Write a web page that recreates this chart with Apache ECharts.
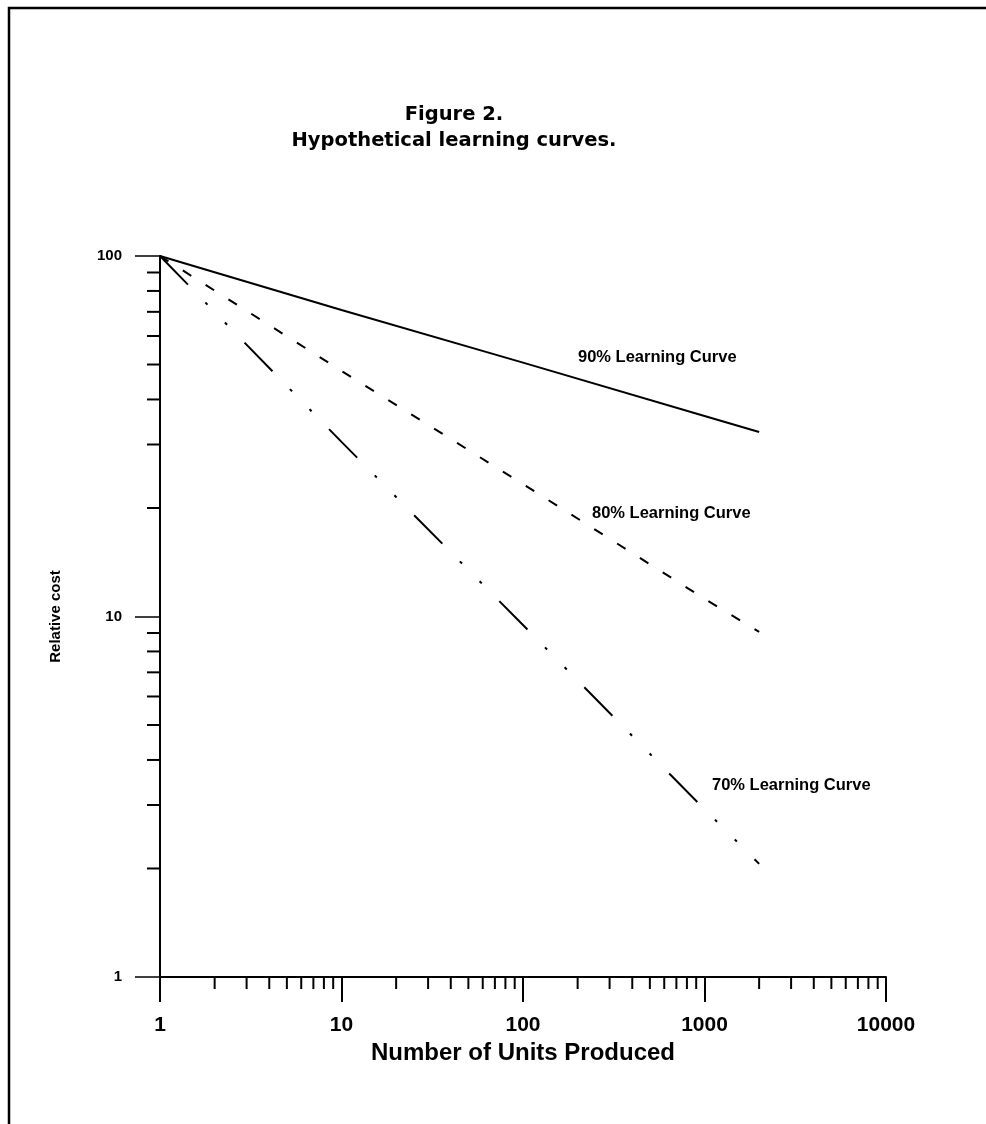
<!DOCTYPE html>
<html>
<head>
<meta charset="utf-8">
<script src="https://cdn.jsdelivr.net/npm/echarts@6/dist/echarts.min.js"></script>
<style>
html,body{margin:0;padding:0;background:#fff;}
#chart{width:986px;height:1124px;}
</style>
</head>
<body>
<div id="chart"></div>
<script>
// ---- data ----
const units = [1, 10, 100, 1000, 2000];
const cost90 = [100, 70.8, 50.6, 36.0, 32.5];
const cost80 = [100, 48.0, 23.3, 11.2, 9.06];
const cost70 = [100, 30.5, 9.47, 2.92, 2.06];
const seriesNames = ['90% Learning Curve', '80% Learning Curve', '70% Learning Curve'];
const xMinorTicks = [2,3,4,5,6,7,8,9,20,30,40,50,60,70,80,90,200,300,400,500,600,700,800,900,2000,3000,4000,5000,6000,7000,8000,9000];
const yMinorTicks = [2,3,4,5,6,7,8,9,20,30,40,50,60,70,80,90];
const titleText = 'Figure 2.\nHypothetical learning curves.';
const xName = 'Number of Units Produced';
const yName = 'Relative cost';

const pairs = (ys) => units.map((u, i) => [u, ys[i]]);
const plainNumber = (v) => String(Math.round(v));

const chart = echarts.init(document.getElementById('chart'), null, {renderer: 'canvas'});

const option = {
  animation: false,
  backgroundColor: '#fff',
  title: {
    text: titleText,
    left: 449,
    top: 97,
    textAlign: 'center',
    textStyle: {
      fontFamily: 'DejaVu Sans',
      fontWeight: 'bold',
      fontSize: 19.5,
      lineHeight: 26,
      color: '#000'
    }
  },
  grid: {left: 160, top: 256, width: 726, height: 721, containLabel: false},
  xAxis: {
    type: 'log',
    logBase: 10,
    min: 1,
    max: 10000,
    name: xName,
    nameLocation: 'middle',
    nameGap: 61,
    nameTextStyle: {fontFamily: 'Liberation Sans', fontWeight: 'bold', fontSize: 24, color: '#000'},
    axisLine: {lineStyle: {color: '#000', width: 2}},
    axisTick: {show: true, length: 25, lineStyle: {color: '#000', width: 2}},
    axisLabel: {margin: 38, formatter: plainNumber, fontFamily: 'Liberation Sans', fontWeight: 'bold', fontSize: 21, color: '#000'},
    splitLine: {show: false},
    minorTick: {show: false}
  },
  yAxis: {
    type: 'log',
    logBase: 10,
    min: 1,
    max: 100,
    name: yName,
    nameLocation: 'middle',
    nameGap: 97,
    nameRotate: 90,
    nameTextStyle: {fontFamily: 'Liberation Sans', fontWeight: 'bold', fontSize: 15, color: '#000'},
    axisLine: {lineStyle: {color: '#000', width: 2}},
    axisTick: {show: true, length: 25, lineStyle: {color: '#000', width: 1.5}},
    axisLabel: {margin: 38, formatter: plainNumber, fontFamily: 'Liberation Sans', fontWeight: 'bold', fontSize: 15, color: '#000'},
    splitLine: {show: false},
    minorTick: {show: false}
  },
  series: [
    {
      name: seriesNames[0], type: 'line', data: pairs(cost90), showSymbol: false, symbol: 'none',
      lineStyle: {color: '#000', width: 2, type: 'solid'}
    },
    {
      name: seriesNames[1], type: 'line', data: pairs(cost80), showSymbol: false, symbol: 'none',
      lineStyle: {color: '#000', width: 2, type: [10, 17], dashOffset: 0}
    },
    {
      name: seriesNames[2], type: 'line', data: pairs(cost70), showSymbol: false, symbol: 'none',
      lineStyle: {color: '#000', width: 2, type: [40, 25, 3, 25, 3, 25], dashOffset: 0}
    },
    {
      type: 'custom', clip: false, silent: true,
      data: xMinorTicks.map(v => [v, 1]),
      encode: {x: 0, y: 1},
      renderItem: function (params, api) {
        const p = api.coord([api.value(0), api.value(1)]);
        return {type: 'line', shape: {x1: p[0], y1: p[1], x2: p[0], y2: p[1] + 12}, style: {stroke: '#000', lineWidth: 2}};
      }
    },
    {
      type: 'custom', clip: false, silent: true,
      data: yMinorTicks.map(v => [1, v]),
      encode: {x: 0, y: 1},
      renderItem: function (params, api) {
        const p = api.coord([api.value(0), api.value(1)]);
        return {type: 'line', shape: {x1: p[0] - 13, y1: p[1], x2: p[0], y2: p[1]}, style: {stroke: '#000', lineWidth: 2}};
      }
    }
  ],
  graphic: [
    {type: 'polyline', shape: {points: [[9, 1130], [9, 8], [990, 8]]}, style: {stroke: '#000', lineWidth: 2.5, fill: null}},
    {type: 'text', x: 578, y: 357, style: {text: seriesNames[0], fontFamily: 'Liberation Sans', fontWeight: 'bold', fontSize: 16.5, fill: '#000', verticalAlign: 'middle'}},
    {type: 'text', x: 592, y: 513, style: {text: seriesNames[1], fontFamily: 'Liberation Sans', fontWeight: 'bold', fontSize: 16.5, fill: '#000', verticalAlign: 'middle'}},
    {type: 'text', x: 712, y: 785, style: {text: seriesNames[2], fontFamily: 'Liberation Sans', fontWeight: 'bold', fontSize: 16.5, fill: '#000', verticalAlign: 'middle'}}
  ]
};

chart.setOption(option);
</script>
</body>
</html>
